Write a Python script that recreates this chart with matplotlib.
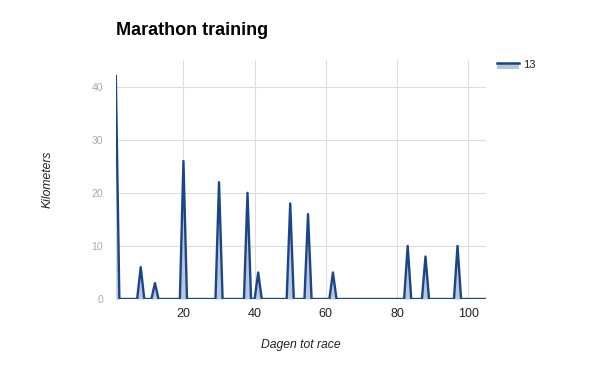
import matplotlib.pyplot as plt
from matplotlib.patches import Rectangle
from matplotlib.lines import Line2D
from matplotlib.legend_handler import HandlerBase

plt.rcParams['font.family'] = ['Liberation Sans', 'DejaVu Sans']

# kilometers per day, day 1 .. 105
days = list(range(1, 106))
km = [
    42, 0, 0, 0, 0, 0, 0, 6, 0, 0,
    0, 3, 0, 0, 0, 0, 0, 0, 0, 26,
    0, 0, 0, 0, 0, 0, 0, 0, 0, 22,
    0, 0, 0, 0, 0, 0, 0, 20, 0, 0,
    5, 0, 0, 0, 0, 0, 0, 0, 0, 18,
    0, 0, 0, 0, 16, 0, 0, 0, 0, 0,
    0, 5, 0, 0, 0, 0, 0, 0, 0, 0,
    0, 0, 0, 0, 0, 0, 0, 0, 0, 0,
    0, 0, 10, 0, 0, 0, 0, 8, 0, 0,
    0, 0, 0, 0, 0, 0, 10, 0, 0, 0,
    0, 0, 0, 0, 0,
]
series_name = "13"
x_ticks = [20, 40, 60, 80, 100]
y_ticks = [0, 10, 20, 30, 40]

line_col = '#1c4587'
fill_col = '#b9c6dc'


class AreaHandler(HandlerBase):
    # line on top, filled band under it, like the google area legend
    def create_artists(self, legend, orig, xd, yd, w, h, fontsize, trans):
        r = Rectangle((xd, yd - 0.25 * h), w, 0.8 * h, fc=fill_col, ec='none', transform=trans)
        l = Line2D([xd, xd + w], [yd + 0.55 * h] * 2, color=line_col, lw=1.8, transform=trans)
        return [r, l]


fig = plt.figure(figsize=(6, 3.71), dpi=100)
ax = fig.add_axes([0.193, 0.194, 0.617, 0.644])

ax.fill_between(days, km, 0, color=fill_col, lw=0, zorder=2)
ax.plot(days, km, color=line_col, lw=1.7, zorder=3)

ax.set_xlim(1, 105)
ax.set_ylim(0, 45)
ax.set_xticks(x_ticks)
ax.set_yticks(y_ticks)
ax.grid(True, color='#dddddd', lw=0.8, zorder=0)
ax.set_axisbelow(True)
for s in ax.spines.values():
    s.set_visible(False)
ax.tick_params(axis='both', length=0)
ax.tick_params(axis='x', labelsize=9, colors='#222222', pad=6.5)
ax.tick_params(axis='y', labelsize=7.5, colors='#aaaaaa', pad=9)

ax.set_xlabel('Dagen tot race', style='italic', fontsize=8.7, color='#222222', va='center')
ax.xaxis.set_label_coords(0.5, -0.192)
ax.set_ylabel('Kilometers', style='italic', fontsize=8.7, color='#222222', va='center')
ax.yaxis.set_label_coords(-0.184, 0.5)

fig.text(0.193, 0.906, 'Marathon training', fontsize=13, fontweight='bold', color='#000000', va='baseline')

leg = fig.legend([Rectangle((0, 0), 1, 1)], [series_name], loc='center left',
                 bbox_to_anchor=(0.828, 1 - 64.5 / 371), frameon=False, fontsize=8,
                 handlelength=2.0, handletextpad=0.4, labelcolor='#222222',
                 borderaxespad=0, borderpad=0, handler_map={Rectangle: AreaHandler()})

fig.savefig('out.png', dpi=100)
